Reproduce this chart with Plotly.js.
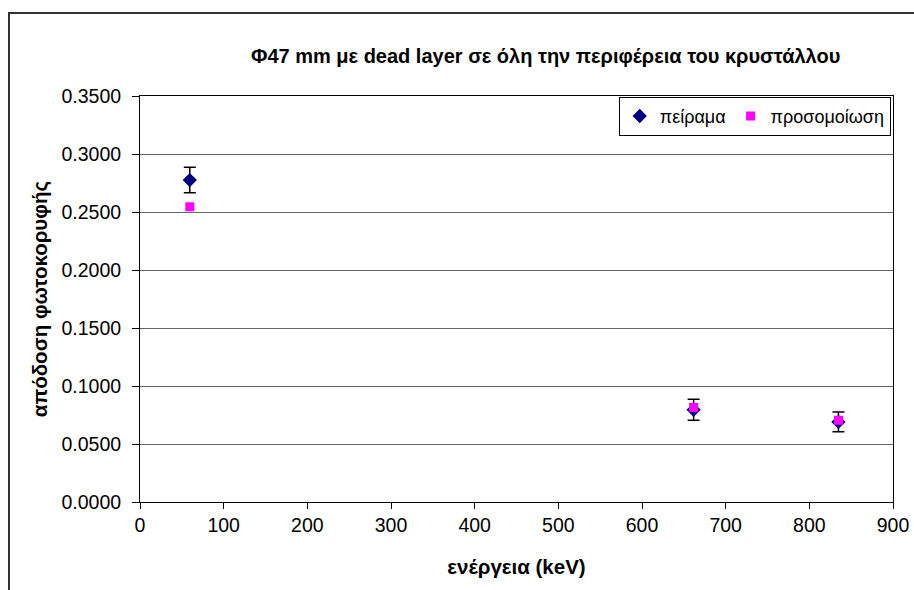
<!DOCTYPE html>
<html>
<head>
<meta charset="utf-8">
<script src="https://cdn.plot.ly/plotly-3.0.1.min.js"></script>
<style>
html,body{margin:0;padding:0;background:#fff;}
#frame{position:absolute;left:8px;top:12px;width:920px;height:600px;border-left:2px solid #333;border-top:2px solid #333;}
#chart{position:absolute;left:0;top:0;width:914px;height:590px;}
</style>
</head>
<body>
<div id="chart"></div>
<div id="frame"></div>
<script>
const energies = [59.5, 661.7, 834.8];
const expValues = [0.2775, 0.0795, 0.0690];
const expErrors = [0.0110, 0.0090, 0.0085];
const simValues = [0.2545, 0.0815, 0.0705];
const simErrors = [0.0008, 0.0008, 0.0008];
const yTickVals = [0, 0.05, 0.1, 0.15, 0.2, 0.25, 0.3, 0.35];
const yTickText = ['0.0000','0.0500','0.1000','0.1500','0.2000','0.2500','0.3000','0.3500'];

const traces = [
  {
    x: energies, y: expValues, name: 'πείραμα', type: 'scatter', mode: 'markers',
    marker: {symbol: 'diamond', color: '#000080', size: 11},
    error_y: {type: 'data', array: expErrors, visible: true, color: '#000', thickness: 1.5, width: 6}
  },
  {
    x: energies, y: simValues, name: 'προσομοίωση', type: 'scatter', mode: 'markers',
    marker: {symbol: 'square', color: '#FF00FF', size: 9},
    error_y: {type: 'data', array: simErrors, visible: true, color: '#000', thickness: 1.5, width: 3}
  }
];

const layout = {
  width: 914, height: 590,
  paper_bgcolor: 'rgba(0,0,0,0)', plot_bgcolor: '#fff',
  margin: {l: 140, r: 21, t: 96, b: 88},
  font: {family: 'Liberation Sans, Arial, sans-serif', size: 18, color: '#000'},
  title: {text: '<b>Φ47 mm με dead layer σε όλη την περιφέρεια του κρυστάλλου</b>',
          x: 0.597, xanchor: 'center', y: 0.905, yanchor: 'middle',
          font: {size: 20, color: '#000'}},
  showlegend: true,
  legend: {orientation: 'h', x: 0.997, xanchor: 'right', y: 0.998, yanchor: 'top',
           bordercolor: '#000', borderwidth: 1, bgcolor: '#fff',
           font: {size: 18}, itemwidth: 30, traceorder: 'normal'},
  xaxis: {
    range: [0, 900], dtick: 100, tick0: 0,
    showgrid: false, zeroline: false,
    showline: true, linecolor: '#000', linewidth: 1, mirror: true,
    ticks: 'outside', ticklen: 6, tickcolor: '#000',
    tickfont: {size: 19.5},
    title: {text: '<b>ενέργεια (keV)</b>', font: {size: 20.5}, standoff: 24}
  },
  yaxis: {
    range: [0, 0.35], tickvals: yTickVals, ticktext: yTickText,
    showgrid: true, gridcolor: '#666', gridwidth: 1, zeroline: false,
    showline: true, linecolor: '#000', linewidth: 1, mirror: true,
    ticks: 'outside', ticklen: 7, tickcolor: '#000', ticklabelstandoff: 7,
    tickfont: {size: 19.5},
    title: {text: '<b>απόδοση φωτοκορυφής</b>', font: {size: 20.5}, standoff: 8}
  }
};

Plotly.newPlot('chart', traces, layout, {displayModeBar: false, staticPlot: true});
</script>
</body>
</html>
